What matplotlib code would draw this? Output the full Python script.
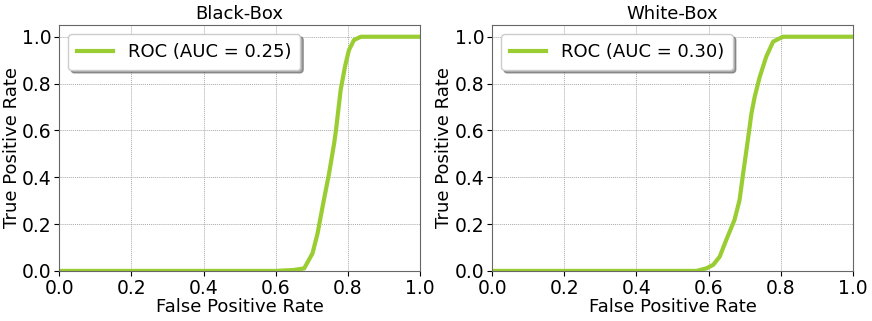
import numpy as np
import matplotlib
matplotlib.use("Agg")
import matplotlib.pyplot as plt

titles = ["Black-Box", "White-Box"]
aucs = [0.25, 0.30]

# ROC points
fpr_black = [0.0, 0.60, 0.65, 0.679, 0.702, 0.716, 0.730, 0.748, 0.762, 0.767,
             0.780, 0.792, 0.803, 0.817, 0.836, 1.0]
tpr_black = [0.0, 0.0, 0.004, 0.011, 0.075, 0.16, 0.275, 0.417, 0.545, 0.60,
             0.772, 0.872, 0.943, 0.986, 1.0, 1.0]

fpr_white = [0.0, 0.566, 0.594, 0.613, 0.631, 0.649, 0.672, 0.686, 0.696, 0.709,
             0.719, 0.728, 0.742, 0.760, 0.779, 0.806, 1.0]
tpr_white = [0.0, 0.0, 0.011, 0.026, 0.061, 0.132, 0.218, 0.303, 0.417, 0.559,
             0.673, 0.744, 0.829, 0.915, 0.979, 1.0, 1.0]

curves = [(fpr_black, tpr_black), (fpr_white, tpr_white)]

fig, axes = plt.subplots(1, 2, figsize=(8.72, 3.21), dpi=100)

for ax, title, auc, (fpr, tpr) in zip(axes, titles, aucs, curves):
    ax.plot(fpr, tpr, color="#9acd32", lw=3, label=f"ROC (AUC = {auc:.2f})")
    ax.set_xlim(0, 1)
    ax.set_ylim(0, 1.05)
    ax.set_xticks(np.arange(0, 1.01, 0.2))
    ax.set_yticks(np.arange(0, 1.01, 0.2))
    ax.tick_params(labelsize=13.5, pad=2)
    ax.set_xlabel("False Positive Rate", fontsize=13, labelpad=0)
    ax.set_ylabel("True Positive Rate", fontsize=13, labelpad=1)
    ax.set_title(title, fontsize=13, pad=4)
    ax.grid(True, linestyle=(0, (1, 1)), color="#aaaaaa", lw=0.7)
    for s in ax.spines.values():
        s.set_color("#666666")
    ax.legend(loc="upper left", fontsize=13, shadow=True, fancybox=True,
              handlelength=2.0, borderpad=0.5)

plt.subplots_adjust(left=0.068, right=0.978, bottom=0.156, top=0.922, wspace=0.2)
fig.savefig("out.png", dpi=100)
